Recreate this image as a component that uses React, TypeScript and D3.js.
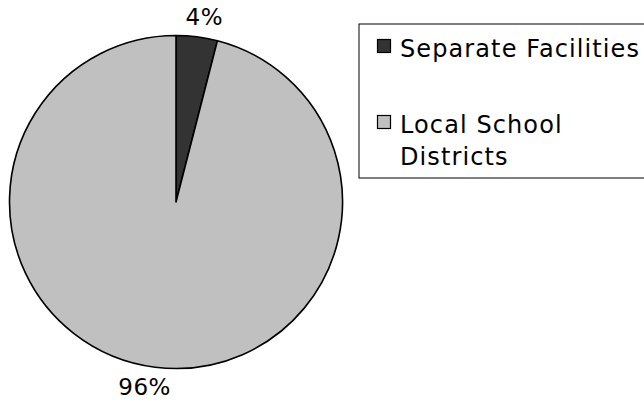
import React, { useEffect, useRef } from "react";
import * as d3 from "d3";

// slice data (share of total)
const categories = ["Separate Facilities", "Local School Districts"];
const values = [4, 96];
const labels = ["4%", "96%"];
const colors = ["#333333", "#c0c0c0"];

// legend lines (the second entry wraps)
const legendLines = [["Separate Facilities"], ["Local School", "Districts"]];

const App = () => {
  const ref = useRef<SVGSVGElement>(null);

  useEffect(() => {
    const svg = d3.select(ref.current);
    svg.selectAll("*").remove();

    const width = 644;
    const height = 404;
    const cx = 176;
    const cy = 202;
    const radius = 166.5;
    const font = "DejaVu Sans, Verdana, sans-serif";

    svg.attr("width", width).attr("height", height);

    const pie = d3.pie<number>().sort(null).value(d => d);
    const arcs = pie(values);
    const arc = d3.arc<d3.PieArcDatum<number>>().innerRadius(0).outerRadius(radius);

    const g = svg.append("g").attr("transform", `translate(${cx},${cy})`);

    g.selectAll("path")
      .data(arcs)
      .join("path")
      .attr("d", arc)
      .attr("fill", (d, i) => colors[i])
      .attr("stroke", "#000")
      .attr("stroke-width", 1.6)
      .attr("stroke-linejoin", "round");

    // percent labels outside the pie
    const labelArc = d3.arc<d3.PieArcDatum<number>>().innerRadius(radius + 20).outerRadius(radius + 20);
    g.selectAll("text.pct")
      .data(arcs)
      .join("text")
      .attr("class", "pct")
      .attr("x", d => {
        const [x] = labelArc.centroid(d);
        return x + (x >= 0 ? 5 : -8);
      })
      .attr("y", d => labelArc.centroid(d)[1])
      .attr("text-anchor", "middle")
      .attr("dominant-baseline", "central")
      .attr("font-family", font)
      .attr("font-size", 23)
      .attr("letter-spacing", 0.5)
      .attr("fill", "#000")
      .text((d, i) => labels[i]);

    // legend box (runs off the right edge)
    const legend = svg.append("g").attr("transform", "translate(359,24)");
    legend.append("rect")
      .attr("x", 0)
      .attr("y", 0)
      .attr("width", 320)
      .attr("height", 154)
      .attr("fill", "#fff")
      .attr("stroke", "#000")
      .attr("stroke-width", 1);

    const rowBase = [33, 109];
    legendLines.forEach((lines, i) => {
      legend.append("rect")
        .attr("x", 18.5)
        .attr("y", rowBase[i] - 17.5)
        .attr("width", 13)
        .attr("height", 13)
        .attr("fill", colors[i])
        .attr("stroke", "#000")
        .attr("stroke-width", 1.2);
      lines.forEach((t, j) => {
        legend.append("text")
          .attr("x", 41)
          .attr("y", rowBase[i] + j * 32)
          .attr("font-family", font)
          .attr("font-size", 24)
          .attr("letter-spacing", 1.1)
          .attr("fill", "#000")
          .text(t);
      });
    });
  }, []);

  return <svg ref={ref} style={{ position: "absolute", left: 0, top: 0 }} />;
};

export default App;
